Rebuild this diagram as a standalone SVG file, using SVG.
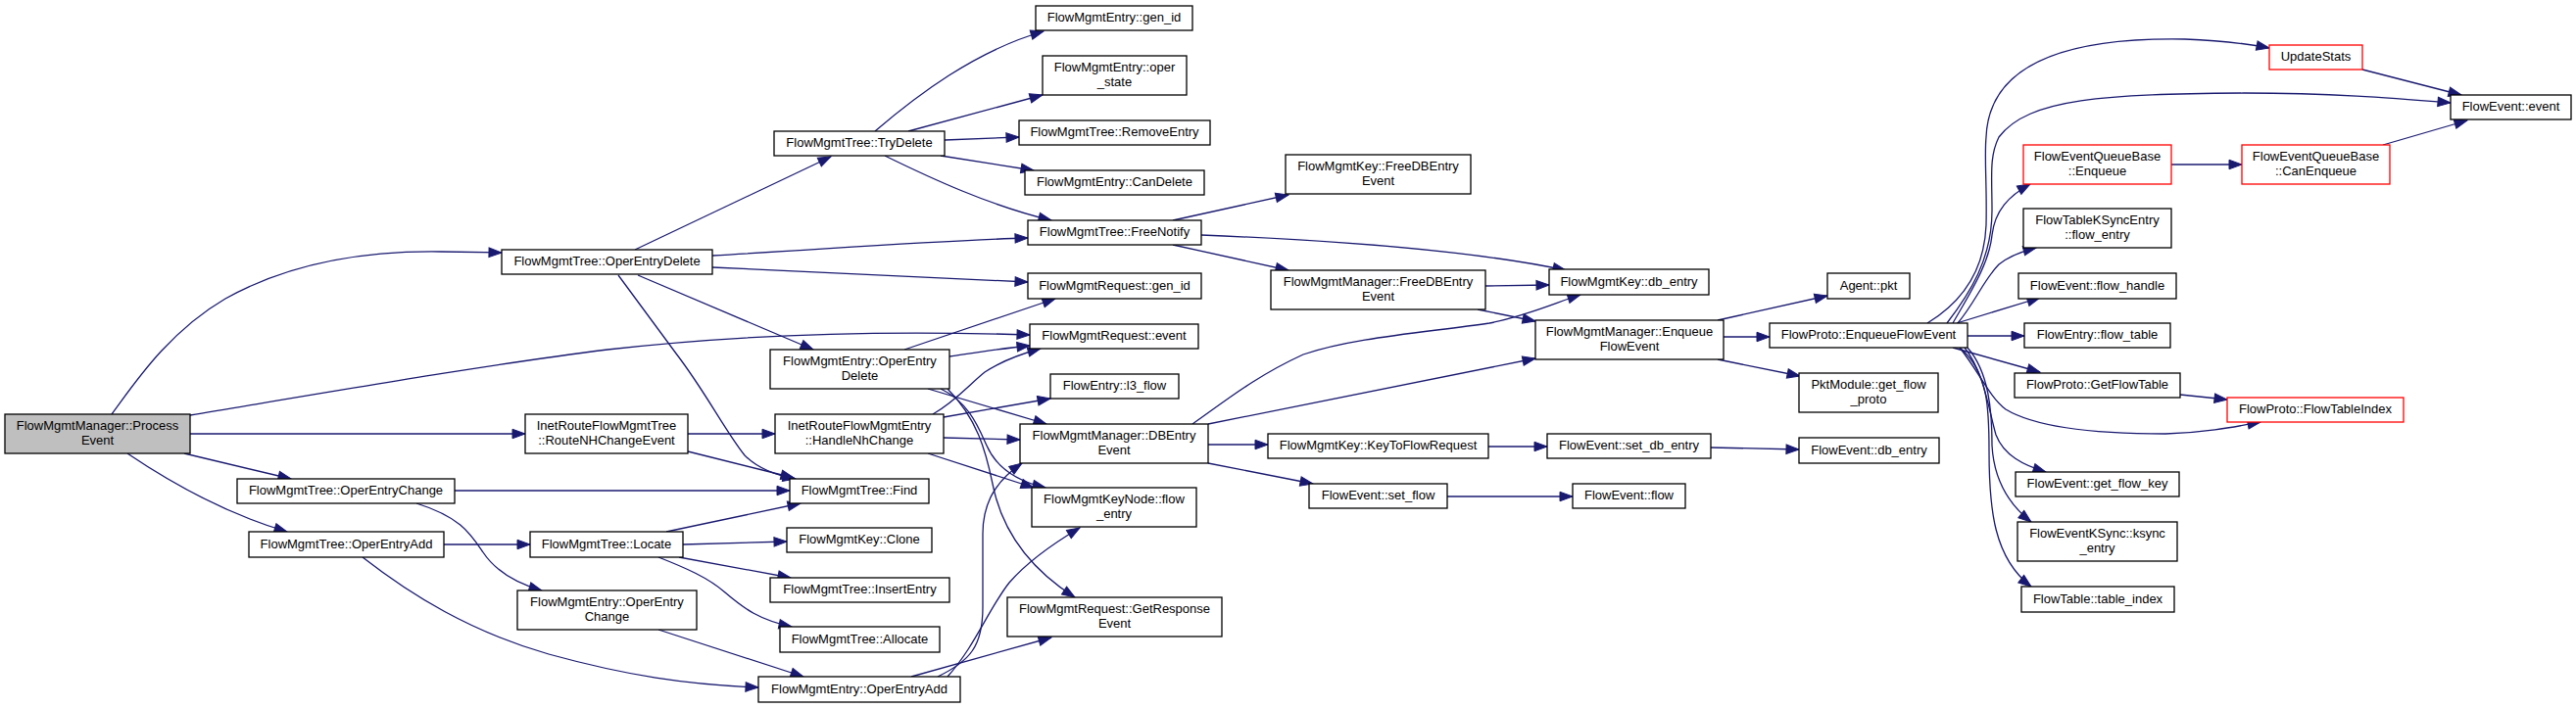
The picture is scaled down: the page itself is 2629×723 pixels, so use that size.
<svg xmlns="http://www.w3.org/2000/svg" width="2629" height="723" viewBox="0 0 2629 723">
<style>
.n rect{fill:#fff;stroke:#000;stroke-width:1.3}
.n.root rect{fill:#bfbfbf}
.n.red rect{stroke:#ff0000}
.n text{font-family:"Liberation Sans",Arial,Helvetica,sans-serif;font-size:13px;fill:#000;text-anchor:middle}
#edges path{fill:none;stroke:#191970;stroke-width:1.3;marker-end:url(#a)}
</style>
<defs>
<marker id="a" markerUnits="userSpaceOnUse" markerWidth="16" markerHeight="12" refX="13" refY="4.75" orient="auto" overflow="visible">
<path d="M0,0 L13,4.75 L0,9.5 z" fill="#191970" stroke="#191970" stroke-width="1"/>
</marker>
</defs>
<rect width="2629" height="723" fill="#fff"/>
<g id="edges">
<path d="M114,423 C135,395 170,340 230,305 C300,266 380,256 450,257 L512,258"/>
<path d="M194,424 C350,398 500,372 620,357 C760,341 900,337 1051,342"/>
<path d="M194,443 L536,443"/>
<path d="M188,463 L297,489"/>
<path d="M130,463 C170,490 225,523 293,543"/>
<path d="M648,255 L848,160"/>
<path d="M727,261 C850,254 950,246 1049,243"/>
<path d="M727,273 C850,278 950,284 1049,288"/>
<path d="M651,281 L830,357"/>
<path d="M631,281 L690,361 C720,400 740,440 760,465 C775,480 795,486 812,489"/>
<path d="M702,443 L791,443"/>
<path d="M702,461 L810,488"/>
<path d="M464,501 L806,501"/>
<path d="M425,514 C470,528 480,545 493,564 C505,582 525,595 553,603"/>
<path d="M453,556 L541,556"/>
<path d="M370,569 C420,608 480,645 560,668 C640,690 700,699 774,702"/>
<path d="M680,543 L817,514"/>
<path d="M697,556 L803,553"/>
<path d="M693,569 L807,590"/>
<path d="M672,569 C700,580 723,590 740,605 C760,622 775,633 808,640"/>
<path d="M672,643 L820,691"/>
<path d="M893,134 C935,98 995,52 1065,32"/>
<path d="M927,134 L1064,97"/>
<path d="M964,143 L1040,140"/>
<path d="M960,159 L1055,174"/>
<path d="M903,159 C950,182 1010,210 1073,225"/>
<path d="M1197,225 L1315,199"/>
<path d="M1226,240 C1350,245 1500,255 1598,276"/>
<path d="M1197,250 L1315,276"/>
<path d="M1516,292 L1581,291"/>
<path d="M1508,316 L1567,328"/>
<path d="M923,357 L1077,305"/>
<path d="M969,364 C990,361 1020,356 1051,353"/>
<path d="M952,423 C975,410 990,392 1005,380 C1020,370 1040,362 1062,356"/>
<path d="M947,397 L1068,433"/>
<path d="M960,397 C990,411 1000,440 1007,455 C1018,480 1040,492 1067,498"/>
<path d="M967,397 C997,427 1006,460 1013,494 C1022,540 1050,580 1097,610"/>
<path d="M963,426 L1072,407"/>
<path d="M963,447 L1041,449"/>
<path d="M947,463 L1055,498"/>
<path d="M957,691 C990,675 1003,660 1003,620 L1003,545 C1003,515 1015,492 1043,473"/>
<path d="M967,691 C995,660 1010,620 1030,595 C1050,572 1075,555 1102,539"/>
<path d="M930,691 L1073,651"/>
<path d="M1217,433 C1250,410 1280,385 1330,362 C1380,345 1450,340 1520,330 C1560,322 1590,308 1613,301"/>
<path d="M1233,433 L1567,366"/>
<path d="M1233,454 L1294,454"/>
<path d="M1233,473 L1340,494"/>
<path d="M1519,456 L1579,456"/>
<path d="M1746,457 L1836,459"/>
<path d="M1477,507 L1605,507"/>
<path d="M1753,327 L1865,302"/>
<path d="M1759,344 L1806,344"/>
<path d="M1753,367 L1837,384"/>
<path d="M1967,330 C2000,310 2025,280 2027,230 C2028,190 2025,160 2027,140 C2030,60 2120,38 2230,40 C2260,41 2290,44 2316,49"/>
<path d="M1987,330 C2010,300 2033,265 2033,215 C2033,180 2030,160 2040,140 C2070,100 2150,96 2290,95 C2380,95 2440,100 2501,105"/>
<path d="M1993,330 C2010,300 2030,270 2033,240 C2036,215 2050,200 2072,188"/>
<path d="M1998,330 C2015,310 2025,285 2040,270 C2050,262 2062,257 2078,253"/>
<path d="M1997,330 L2082,304"/>
<path d="M2008,343 L2066,343"/>
<path d="M1993,355 L2082,380"/>
<path d="M2000,355 C2020,380 2030,405 2047,418 C2080,438 2150,443 2210,443 C2250,442 2280,436 2307,431"/>
<path d="M2005,355 C2025,380 2030,420 2037,444 C2045,465 2065,475 2088,482"/>
<path d="M2008,355 C2030,380 2033,420 2033,455 C2035,490 2050,515 2073,533"/>
<path d="M2000,355 C2030,380 2030,420 2030,461 C2030,520 2035,570 2073,599"/>
<path d="M2216,168 L2288,168"/>
<path d="M2432,148 L2518,123"/>
<path d="M2411,71 L2512,97"/>
<path d="M2225,403 L2273,408"/>
</g>
<g id="n0" class="n root"><rect x="5" y="423" width="189" height="40"/><text x="99.5" y="439">FlowMgmtManager::Process</text><text x="99.5" y="453.5">Event</text></g>
<g id="n1" class="n"><rect x="512" y="255" width="215" height="25"/><text x="619.5" y="271">FlowMgmtTree::OperEntryDelete</text></g>
<g id="n2" class="n"><rect x="1051" y="331" width="172" height="25"/><text x="1137" y="347">FlowMgmtRequest::event</text></g>
<g id="n3" class="n"><rect x="536" y="423" width="166" height="40"/><text x="619" y="439">InetRouteFlowMgmtTree</text><text x="619" y="453.5">::RouteNHChangeEvent</text></g>
<g id="n4" class="n"><rect x="242" y="489" width="222" height="25"/><text x="353" y="505">FlowMgmtTree::OperEntryChange</text></g>
<g id="n5" class="n"><rect x="254" y="543" width="199" height="26"/><text x="353.5" y="559.5">FlowMgmtTree::OperEntryAdd</text></g>
<g id="n6" class="n"><rect x="790" y="134" width="174" height="25"/><text x="877" y="150">FlowMgmtTree::TryDelete</text></g>
<g id="n7" class="n"><rect x="1049" y="225" width="177" height="25"/><text x="1137.5" y="241">FlowMgmtTree::FreeNotify</text></g>
<g id="n8" class="n"><rect x="1049" y="279" width="177" height="26"/><text x="1137.5" y="295.5">FlowMgmtRequest::gen_id</text></g>
<g id="n9" class="n"><rect x="786" y="357" width="183" height="40"/><text x="877.5" y="373">FlowMgmtEntry::OperEntry</text><text x="877.5" y="387.5">Delete</text></g>
<g id="n10" class="n"><rect x="806" y="489" width="142" height="25"/><text x="877" y="505">FlowMgmtTree::Find</text></g>
<g id="n11" class="n"><rect x="791" y="423" width="172" height="40"/><text x="877" y="439">InetRouteFlowMgmtEntry</text><text x="877" y="453.5">::HandleNhChange</text></g>
<g id="n12" class="n"><rect x="541" y="543" width="156" height="26"/><text x="619" y="559.5">FlowMgmtTree::Locate</text></g>
<g id="n13" class="n"><rect x="528" y="603" width="183" height="40"/><text x="619.5" y="619">FlowMgmtEntry::OperEntry</text><text x="619.5" y="633.5">Change</text></g>
<g id="n14" class="n"><rect x="774" y="691" width="206" height="26"/><text x="877" y="707.5">FlowMgmtEntry::OperEntryAdd</text></g>
<g id="n15" class="n"><rect x="1057" y="6" width="160" height="25"/><text x="1137" y="22">FlowMgmtEntry::gen_id</text></g>
<g id="n16" class="n"><rect x="1064" y="57" width="147" height="40"/><text x="1137.5" y="73">FlowMgmtEntry::oper</text><text x="1137.5" y="87.5">_state</text></g>
<g id="n17" class="n"><rect x="1040" y="123" width="195" height="25"/><text x="1137.5" y="139">FlowMgmtTree::RemoveEntry</text></g>
<g id="n18" class="n"><rect x="1046" y="174" width="183" height="25"/><text x="1137.5" y="190">FlowMgmtEntry::CanDelete</text></g>
<g id="n19" class="n"><rect x="1312" y="158" width="189" height="40"/><text x="1406.5" y="174">FlowMgmtKey::FreeDBEntry</text><text x="1406.5" y="188.5">Event</text></g>
<g id="n20" class="n"><rect x="1581" y="275" width="163" height="26"/><text x="1662.5" y="291.5">FlowMgmtKey::db_entry</text></g>
<g id="n21" class="n"><rect x="1297" y="276" width="219" height="40"/><text x="1406.5" y="292">FlowMgmtManager::FreeDBEntry</text><text x="1406.5" y="306.5">Event</text></g>
<g id="n22" class="n"><rect x="1567" y="327" width="192" height="40"/><text x="1663" y="343">FlowMgmtManager::Enqueue</text><text x="1663" y="357.5">FlowEvent</text></g>
<g id="n23" class="n"><rect x="1072" y="382" width="131" height="25"/><text x="1137.5" y="398">FlowEntry::l3_flow</text></g>
<g id="n24" class="n"><rect x="1041" y="433" width="192" height="40"/><text x="1137" y="449">FlowMgmtManager::DBEntry</text><text x="1137" y="463.5">Event</text></g>
<g id="n25" class="n"><rect x="1053" y="498" width="168" height="40"/><text x="1137" y="514">FlowMgmtKeyNode::flow</text><text x="1137" y="528.5">_entry</text></g>
<g id="n26" class="n"><rect x="1028" y="610" width="219" height="40"/><text x="1137.5" y="626">FlowMgmtRequest::GetResponse</text><text x="1137.5" y="640.5">Event</text></g>
<g id="n27" class="n"><rect x="803" y="539" width="148" height="25"/><text x="877" y="555">FlowMgmtKey::Clone</text></g>
<g id="n28" class="n"><rect x="786" y="590" width="183" height="25"/><text x="877.5" y="606">FlowMgmtTree::InsertEntry</text></g>
<g id="n29" class="n"><rect x="796" y="640" width="163" height="26"/><text x="877.5" y="656.5">FlowMgmtTree::Allocate</text></g>
<g id="n30" class="n"><rect x="1294" y="443" width="225" height="25"/><text x="1406.5" y="459">FlowMgmtKey::KeyToFlowRequest</text></g>
<g id="n31" class="n"><rect x="1579" y="443" width="167" height="25"/><text x="1662.5" y="459">FlowEvent::set_db_entry</text></g>
<g id="n32" class="n"><rect x="1336" y="494" width="141" height="25"/><text x="1406.5" y="510">FlowEvent::set_flow</text></g>
<g id="n33" class="n"><rect x="1605" y="494" width="115" height="25"/><text x="1662.5" y="510">FlowEvent::flow</text></g>
<g id="n34" class="n"><rect x="1865" y="279" width="84" height="26"/><text x="1907" y="295.5">Agent::pkt</text></g>
<g id="n35" class="n"><rect x="1806" y="330" width="202" height="25"/><text x="1907" y="346">FlowProto::EnqueueFlowEvent</text></g>
<g id="n36" class="n"><rect x="1836" y="381" width="142" height="40"/><text x="1907" y="397">PktModule::get_flow</text><text x="1907" y="411.5">_proto</text></g>
<g id="n37" class="n"><rect x="1836" y="447" width="143" height="26"/><text x="1907.5" y="463.5">FlowEvent::db_entry</text></g>
<g id="n38" class="n red"><rect x="2065" y="148" width="151" height="40"/><text x="2140.5" y="164">FlowEventQueueBase</text><text x="2140.5" y="178.5">::Enqueue</text></g>
<g id="n39" class="n"><rect x="2065" y="213" width="151" height="40"/><text x="2140.5" y="229">FlowTableKSyncEntry</text><text x="2140.5" y="243.5">::flow_entry</text></g>
<g id="n40" class="n"><rect x="2060" y="279" width="161" height="26"/><text x="2140.5" y="295.5">FlowEvent::flow_handle</text></g>
<g id="n41" class="n"><rect x="2066" y="330" width="149" height="25"/><text x="2140.5" y="346">FlowEntry::flow_table</text></g>
<g id="n42" class="n"><rect x="2056" y="381" width="169" height="25"/><text x="2140.5" y="397">FlowProto::GetFlowTable</text></g>
<g id="n43" class="n"><rect x="2057" y="482" width="167" height="25"/><text x="2140.5" y="498">FlowEvent::get_flow_key</text></g>
<g id="n44" class="n"><rect x="2059" y="533" width="163" height="40"/><text x="2140.5" y="549">FlowEventKSync::ksync</text><text x="2140.5" y="563.5">_entry</text></g>
<g id="n45" class="n"><rect x="2063" y="599" width="156" height="26"/><text x="2141" y="615.5">FlowTable::table_index</text></g>
<g id="n46" class="n red"><rect x="2316" y="46" width="95" height="25"/><text x="2363.5" y="62">UpdateStats</text></g>
<g id="n47" class="n"><rect x="2501" y="97" width="123" height="25"/><text x="2562.5" y="113">FlowEvent::event</text></g>
<g id="n48" class="n red"><rect x="2288" y="148" width="151" height="40"/><text x="2363.5" y="164">FlowEventQueueBase</text><text x="2363.5" y="178.5">::CanEnqueue</text></g>
<g id="n49" class="n red"><rect x="2273" y="406" width="180" height="25"/><text x="2363" y="422">FlowProto::FlowTableIndex</text></g>
</svg>
